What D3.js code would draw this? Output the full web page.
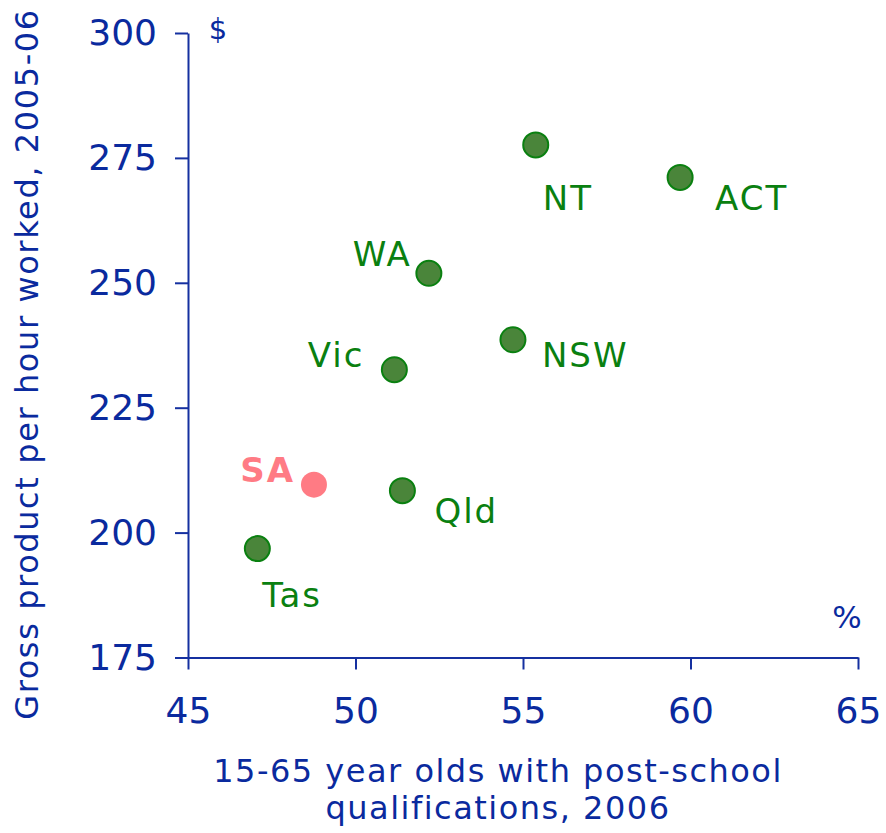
<!DOCTYPE html>
<html>
<head>
<meta charset="utf-8">
<script src="https://cdn.jsdelivr.net/npm/d3@7"></script>
<style>
  html, body { margin: 0; padding: 0; background: #fff; }
  svg { display: block; font-family: "DejaVu Sans", Verdana, sans-serif; }
</style>
</head>
<body>
<svg id="chart" width="886" height="833"></svg>
<script>
// States and territories, with post-school qualifications (%) and gross product per hour ($)
const states = ["NT", "ACT", "WA", "NSW", "Vic", "SA", "Qld", "Tas"];
const qualifications = [55.38, 59.69, 52.19, 54.7, 51.16, 48.76, 51.4, 47.07];
const productPerHour = [277.6, 271.1, 251.9, 238.6, 232.6, 209.6, 208.4, 196.8];
const highlighted = ["SA"];

const xTicks = [45, 50, 55, 60, 65];
const yTicks = [175, 200, 225, 250, 275, 300];
const xTitle = ["15-65 year olds with post-school", "qualifications, 2006"];
const yTitle = "Gross product per hour worked, 2005-06";

// label placement relative to each point: [dx, dy, anchor]
const labelPos = {
  NT:  [7, 65, "start"],
  ACT: [35, 33, "start"],
  WA:  [-17, -7, "end"],
  NSW: [29, 27, "start"],
  Vic: [-30, -3, "end"],
  SA:  [-19, -3, "end"],
  Qld: [32, 32, "start"],
  Tas: [5, 58, "start"]
};

const axisBlue = "#1530a0";
const textBlue = "#0a2a9e";
const green = "#0a8010";
const pointFill = "#4a853a";
const pink = "#ff7b84";

const svg = d3.select("#chart");
const x = d3.scaleLinear().domain([45, 65]).range([188, 858]);
const y = d3.scaleLinear().domain([175, 300]).range([657.5, 33]);

const data = states.map((s, i) => ({ state: s, q: qualifications[i], p: productPerHour[i] }));

// Axes
const xAxis = svg.append("g")
  .attr("transform", `translate(0,${y(175)})`)
  .call(d3.axisBottom(x).tickValues(xTicks).tickSize(12).tickSizeOuter(0).tickPadding(20));
const yAxis = svg.append("g")
  .attr("transform", `translate(${x(45)},0)`)
  .call(d3.axisLeft(y).tickValues(yTicks).tickSize(13).tickSizeOuter(0).tickPadding(18));

[xAxis, yAxis].forEach(g => {
  g.select(".domain").attr("stroke", axisBlue).attr("stroke-width", 2);
  g.selectAll(".tick line").attr("stroke", axisBlue).attr("stroke-width", 2);
  g.selectAll(".tick text")
    .attr("fill", textBlue)
    .style("font-family", "'DejaVu Sans', Verdana, sans-serif")
    .style("font-size", "36px");
});
xAxis.selectAll(".tick text").attr("dy", "0.92em");

// Unit labels
svg.append("text").attr("x", 218).attr("y", 39).attr("text-anchor", "middle")
  .attr("fill", textBlue).style("font-size", "29px").text("$");
svg.append("text").attr("x", 847).attr("y", 628).attr("text-anchor", "middle")
  .attr("fill", textBlue).style("font-size", "31px").text("%");

// Axis titles
svg.append("text")
  .attr("text-anchor", "middle")
  .attr("fill", textBlue)
  .style("font-size", "32px")
  .style("letter-spacing", "1.5px")
  .selectAll("tspan")
  .data(xTitle)
  .join("tspan")
  .attr("x", 498)
  .attr("y", (d, i) => 782 + i * 37)
  .text(d => d);

svg.append("text")
  .attr("transform", `translate(38,364) rotate(-90)`)
  .attr("text-anchor", "middle")
  .attr("fill", textBlue)
  .style("font-size", "32px")
  .style("letter-spacing", "1.6px")
  .text(yTitle);

// Points
svg.append("g").selectAll("circle")
  .data(data)
  .join("circle")
  .attr("cx", d => x(d.q))
  .attr("cy", d => y(d.p))
  .attr("r", d => highlighted.includes(d.state) ? 13 : 12.5)
  .attr("fill", d => highlighted.includes(d.state) ? pink : pointFill)
  .attr("stroke", d => highlighted.includes(d.state) ? "none" : green)
  .attr("stroke-width", 2);

// Point labels
svg.append("g").selectAll("text")
  .data(data)
  .join("text")
  .attr("x", d => x(d.q) + labelPos[d.state][0])
  .attr("y", d => y(d.p) + labelPos[d.state][1])
  .attr("text-anchor", d => labelPos[d.state][2])
  .attr("fill", d => highlighted.includes(d.state) ? pink : green)
  .style("font-size", "34px")
  .style("letter-spacing", "2px")
  .style("font-weight", d => highlighted.includes(d.state) ? "bold" : "normal")
  .text(d => d.state);
</script>
</body>
</html>
